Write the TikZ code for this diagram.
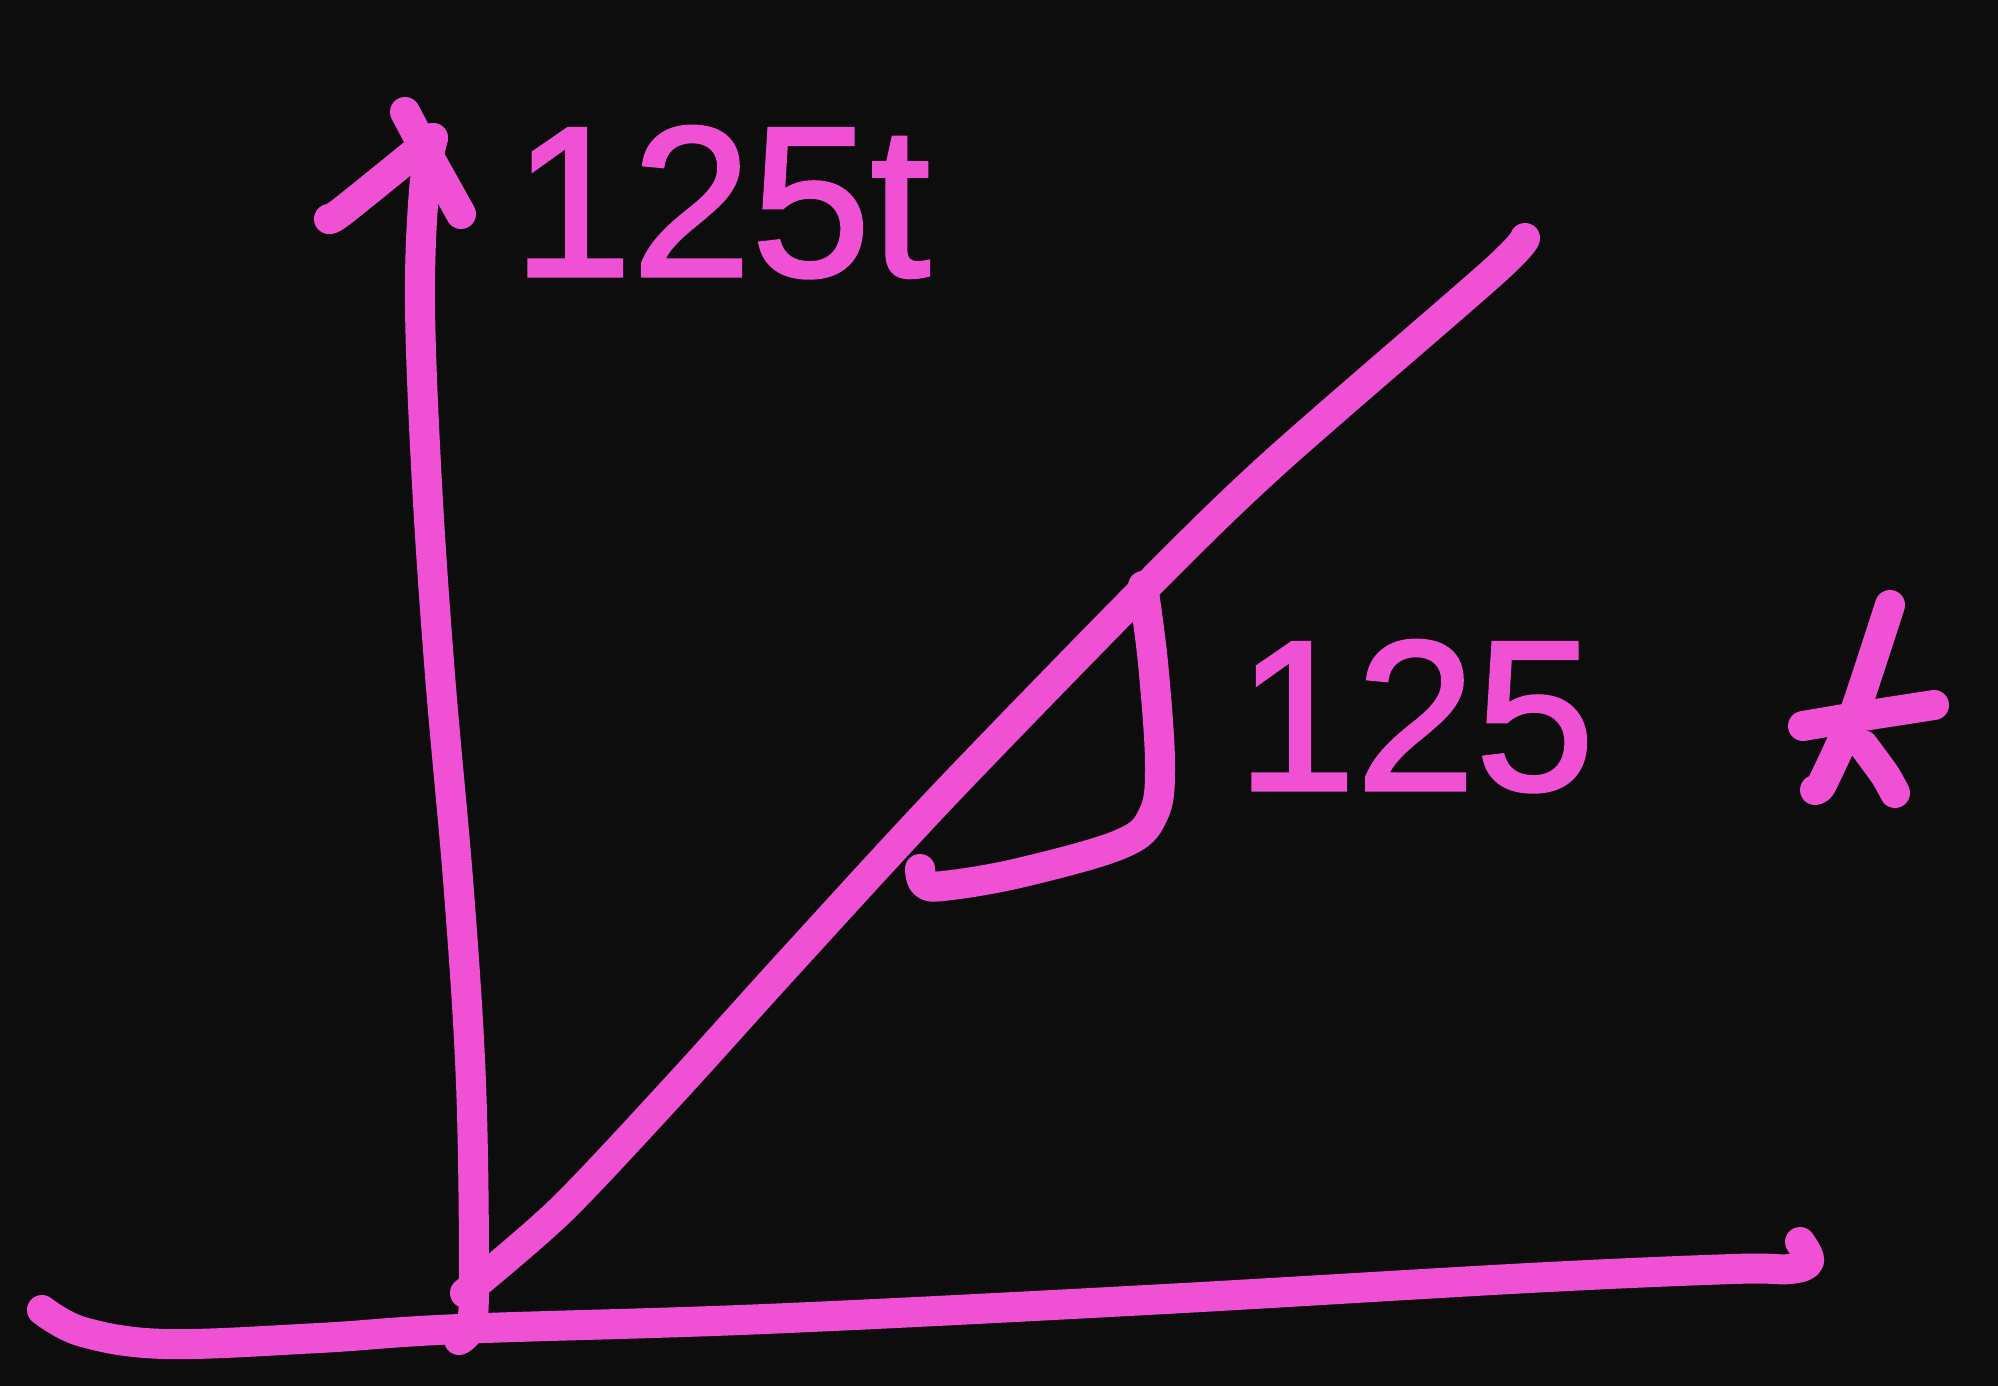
\documentclass[tikz,border=0pt]{standalone}
\usepackage{fontspec}
\setmainfont{Liberation Sans}
\definecolor{bgdark}{HTML}{0D0D0D}
\definecolor{inkpink}{HTML}{F050D4}
\begin{document}
\begin{tikzpicture}[x=0.01cm,y=-0.01cm,
  ink/.style={draw=inkpink, line width=0.3cm, line cap=round, line join=round},
  hand/.style={text=inkpink, font=\fontsize{61}{61}\selectfont\addfontfeature{FakeBold=1.5}, inner sep=0pt}]
\fill[bgdark] (0,0) rectangle (1998,1386);
\useasboundingbox (0,0) rectangle (1998,1386);
% vertical axis
\draw[ink] plot[smooth, tension=0.6] coordinates {(459,1340) (471,1325) (474,1274) (471,1083) (459,892) (440,675) (427,484) (420,306) (424,191) (433,138)};
% arrow head
\draw[ink] plot[smooth, tension=0.5] coordinates {(329,219) (344,210) (433,138)};
\draw[ink] plot[smooth, tension=0.5] coordinates {(405,112) (427,153) (461,214)};
% horizontal axis
\draw[ink] plot[smooth, tension=0.6] coordinates {(42,1310) (83,1332) (166,1344) (319,1338) (459,1329) (765,1319) (1147,1300) (1529,1278) (1733,1269) (1790,1269) (1809,1261) (1800,1242)};
% diagonal
\draw[ink] plot[smooth, tension=0.5] coordinates {(465,1293) (561,1210) (675,1089) (790,962) (943,796) (1147,586) (1274,463) (1491,274) (1525,238)};
% angle arc
\draw[ink] plot[smooth, tension=0.6] coordinates {(1143,586) (1153,663) (1160,765) (1153,815) (1121,844) (1019,873) (943,886) (924,883) (920,869)};
% labels
\node[hand, anchor=base west] (top) at (512,276) {125t};
\node[hand, anchor=base west] (ang) at (1236,790) {125};
% star
\draw[ink] plot[smooth, tension=0.3] coordinates {(1890,605) (1854,714) (1822,784) (1815,790)};
\draw[ink] (1803,726) -- (1850,718) -- (1934,705);
\draw[ink] plot[smooth, tension=0.4] coordinates {(1863,745) (1885,775) (1895,793)};
\end{tikzpicture}
\end{document}
